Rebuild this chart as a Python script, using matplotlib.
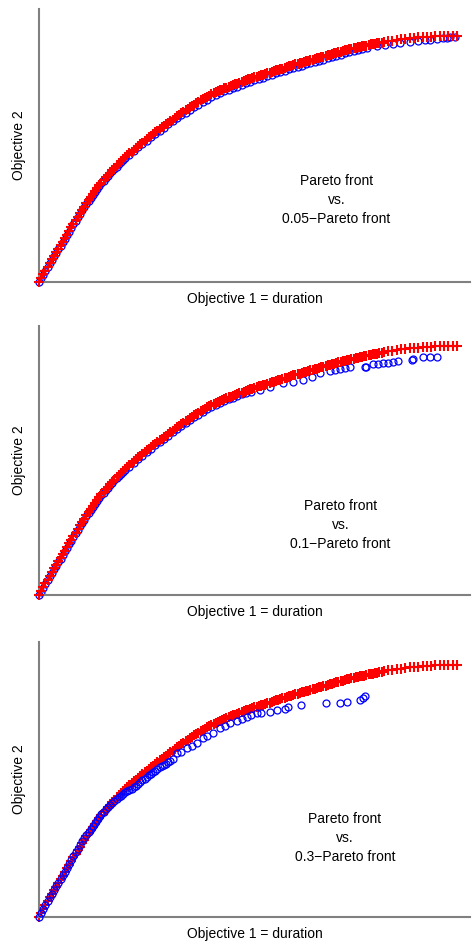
import matplotlib
matplotlib.use("Agg")
import matplotlib.pyplot as plt

plt.rcParams['font.family'] = ['Liberation Sans', 'DejaVu Sans']

# exact Pareto front (same in every panel)
front_x = [0, 0.5, 1, 1.5, 2, 2.5, 3, 3.5, 4, 4.5, 5, 5.5, 6, 6.5, 7, 7.5, 8, 8.5, 9, 9.5,
           10, 10.5, 11, 11.5, 12, 12.5, 13, 13.5, 14, 14.5, 15, 15.5, 16, 16.5, 17, 17.5,
           18, 18.5, 19, 19.5,
           20, 20.5, 21, 21.5, 22, 22.5, 23, 23.5, 24, 24.5, 25, 25.5, 26, 26.5, 27, 27.5,
           28, 28.5, 29, 29.5, 30, 30.5, 31, 31.5, 32, 32.5, 33, 33.5, 34, 34.5, 35, 35.5,
           36, 36.5, 37, 37.5, 38, 38.5, 39, 39.5, 40, 40.5, 41, 41.5, 42, 42.5, 43, 43.5,
           44, 44.5, 45, 45.5, 46, 46.5, 47, 47.5, 48, 48.5, 49, 49.5, 50, 50.5, 51, 51.5,
           52, 52.5, 53, 53.5, 54, 54.5, 55, 55.5, 56, 56.5, 57, 57.5, 58, 58.5, 59, 59.5,
           60, 60.5, 61, 61.5, 62, 62.5, 63, 63.5, 64, 64.5, 65, 65.5, 66, 66.5, 67, 67.5,
           68, 68.5, 69, 69.5, 70, 70.5, 71, 71.5, 72, 72.5, 73, 73.5, 74, 74.5, 75, 75.5,
           76, 76.5, 77, 77.5, 78, 78.5, 79, 79.5,
           80, 81, 82, 83, 84, 85, 86, 87, 88, 89, 90, 91, 92, 93, 94, 95, 96, 97]
front_y = [0, 1.4, 2.8, 4.2, 5.6, 7.0, 8.3, 9.6, 10.9, 12.2, 13.5, 14.8, 16.1, 17.4, 18.7,
           20.0, 21.3, 22.6, 23.9, 25.2, 26.4, 27.6, 28.8, 30.0, 31.1, 32.2, 33.3, 34.4,
           35.4, 36.4, 37.4, 38.3, 39.2, 40.1, 41.0, 41.8, 42.6, 43.4, 44.2, 45.0,
           45.7, 46.4, 47.1, 47.8, 48.5, 49.1, 49.8, 50.4, 51.1, 51.7, 52.4, 53.0, 53.6,
           54.2, 54.8, 55.4, 56.0, 56.6, 57.2, 57.7, 58.3, 58.9, 59.5, 60.1, 60.7, 61.2,
           61.8, 62.3, 62.9, 63.4, 64.0, 64.5, 65.0, 65.5, 66.0, 66.5, 67.0, 67.4, 67.9,
           68.3, 68.8, 69.1, 69.5, 69.8, 70.2, 70.5, 70.9, 71.2, 71.5, 71.8, 72.1, 72.4,
           72.7, 73.0, 73.3, 73.6, 73.9, 74.2, 74.5, 74.7, 75.0, 75.2, 75.5, 75.7, 76.0,
           76.2, 76.5, 76.7, 77.0, 77.2, 77.5, 77.7, 78.0, 78.2, 78.5, 78.7, 79.0, 79.2,
           79.5, 79.7, 79.9, 80.1, 80.4, 80.6, 80.8, 81.0, 81.3, 81.5, 81.7, 81.9, 82.2,
           82.4, 82.6, 82.8, 83.1, 83.3, 83.5, 83.7, 84.0, 84.2, 84.4, 84.6, 84.8, 85.0,
           85.2, 85.4, 85.6, 85.7, 85.9, 86.1, 86.3, 86.4, 86.6, 86.8, 87.0, 87.1, 87.3,
           87.4, 87.6, 87.7,
           87.9, 88.2, 88.4, 88.7, 88.9, 89.1, 89.3, 89.5, 89.6, 89.7, 89.8, 89.9, 90.0,
           90.0, 90.1, 90.1, 90.2, 90.2]

# 0.05-Pareto front
eps05_x = [0, 0.5, 1, 1.5, 2, 2.5, 3, 3.5, 4, 4.5, 5, 5.5, 6, 6.5, 7, 7.5, 8, 8.5, 9, 9.5,
           10, 10.5, 11, 11.5, 12, 12.5, 13, 13.5, 14, 14.5, 15, 15.5, 16, 16.5, 17, 17.5,
           18, 18.5, 19, 19.5, 20, 21, 22, 23, 24, 25, 26, 27, 28, 29, 30, 31, 32, 33, 34,
           35, 36, 37, 38, 39, 40, 41, 42, 43, 44, 45, 46, 47, 48, 49, 50, 51, 52, 53, 54,
           55, 56, 57, 58, 59, 60, 61, 62, 63, 64, 65, 66, 67, 68, 69, 70, 71, 72, 73, 74,
           75, 76.1, 78.4, 80.3, 82.1, 83.8, 86.1, 87.9, 89.6, 90.7, 92.3, 93.7, 94.7,
           95.4, 96.5]
eps05_y = [0, 1.3, 2.7, 4.0, 5.4, 6.8, 8.1, 9.4, 10.7, 12.0, 13.3, 14.6, 15.9, 17.2, 18.5,
           19.8, 21.1, 22.4, 23.7, 25.0, 26.2, 27.4, 28.6, 29.8, 30.9, 32.0, 33.1, 34.1,
           35.1, 36.1, 37.1, 38.0, 38.9, 39.8, 40.7, 41.5, 42.3, 43.1, 43.9, 44.6,
           45.3, 46.6, 48.0, 49.3, 50.6, 51.8, 53.0, 54.2, 55.4, 56.5,
           57.7, 58.8, 59.9, 61.0, 62.0, 63.0, 64.0, 65.0, 65.9, 66.8,
           67.7, 68.4, 69.1, 69.8, 70.4, 71.0, 71.6, 72.2, 72.8, 73.4,
           73.9, 74.4, 74.9, 75.4, 75.9, 76.4, 76.9, 77.4, 77.9, 78.4,
           78.8, 79.3, 79.7, 80.2, 80.6, 81.1, 81.5, 82.0, 82.4, 82.9,
           83.3, 83.7, 84.1, 84.5, 84.8, 85.2,
           85.7, 86.4, 86.8, 87.2, 87.6, 88.0, 88.3, 88.6, 88.8, 89.1, 89.3, 89.4, 89.6, 89.9]

# 0.1-Pareto front
eps10_x = [0, 0.5, 1, 1.5, 2, 2.5, 3, 3.5, 4, 4.5, 5, 5.5, 6, 6.5, 7, 7.5, 8, 8.5, 9, 9.5,
           10, 10.5, 11, 11.5, 12, 12.5, 13, 13.5, 14, 14.5, 15, 15.5, 16, 16.5, 17, 17.5,
           18, 18.5, 19, 19.5, 20, 21, 22, 23, 24, 25, 26, 27, 28, 29, 30, 31, 32, 33, 34,
           35, 36, 37, 38, 39, 40, 41, 42, 43, 44, 45, 46, 47, 48,
           49.3, 51.3, 53.6, 56.7, 59.0, 61.3, 63.3, 65.2, 67.5, 68.7, 69.8, 71.0, 72.2,
           75.6, 76.0, 77.6, 78.7, 79.9, 81.0, 82.2, 83.4, 86.5, 86.8, 89.2, 90.7, 92.3]
eps10_y = [0, 1.2, 2.6, 4.0, 5.3, 6.7, 8.0, 9.3, 10.6, 11.9, 13.2, 14.5, 15.8, 17.1, 18.4,
           19.7, 21.0, 22.3, 23.6, 24.9, 26.1, 27.3, 28.5, 29.7, 30.8, 31.9, 33.0, 34.1,
           35.1, 36.1, 37.1, 38.0, 38.9, 39.8, 40.7, 41.5, 42.3, 43.1, 43.9, 44.7,
           45.2, 46.5, 47.9, 49.2, 50.5, 51.8, 53.0, 54.2, 55.4, 56.6,
           57.7, 58.9, 60.1, 61.2, 62.3, 63.3, 64.3, 65.3, 66.3, 67.2,
           68.1, 68.8, 69.5, 70.2, 70.8, 71.4, 72.0, 72.6, 73.1,
           73.6, 74.2, 75.4, 76.7, 77.2, 77.9, 79.0, 80.3, 81.2, 81.5, 81.7, 82.1, 82.5,
           82.5, 82.7, 83.6, 83.6, 83.9, 83.9, 84.5, 84.8, 85.1, 85.5, 86.1, 86.1, 86.1]

# 0.3-Pareto front
eps30_x = [0, 0.5, 1, 1.5, 2, 2.5, 3, 3.5, 4, 4.5, 5, 5.5, 6, 6.5, 7, 7.5, 8, 8.5, 9, 9.5,
           10, 10.5, 11, 11.5, 12, 12.5, 13, 13.5, 14, 14.5, 15, 15.5, 16, 16.5, 17, 17.5,
           18, 18.5, 19, 19.5, 20, 20.5, 21, 21.5, 22, 22.5, 23, 23.5, 24, 24.5, 25, 25.5,
           26, 26.5, 27, 27.5, 28, 28.5, 29, 29.5, 30, 30.5, 31,
           32.1, 33.0, 34.3, 35.5, 36.6, 38.1, 39.0, 40.4, 42.0, 43.2, 44.3, 45.9, 47.0,
           48.2, 49.3, 50.5, 51.5, 53.6, 55.2, 57.1, 57.8, 60.9, 66.7, 69.8, 71.4, 74.5,
           75.2, 75.6]
eps30_y = [0, 1.4, 2.8, 4.3, 5.7, 7.1, 8.4, 9.7, 11.0, 12.3, 13.6, 14.9, 16.2, 17.5, 18.9,
           20.3, 21.7, 23.1, 24.5, 25.9, 27.1, 28.3, 29.4, 30.5, 31.6, 32.7, 33.8, 34.8,
           35.8, 36.7, 37.6, 38.5, 39.3, 40.1, 40.8, 41.5, 42.2, 42.8, 43.4, 44.0,
           44.6, 45.0, 45.4, 45.9, 46.5, 47.0, 47.6, 48.2, 48.9, 49.5, 50.2, 50.7, 51.3,
           51.8, 52.4, 52.9, 53.5, 54.0, 54.5, 54.9, 55.3, 55.9, 56.6,
           58.6, 59.2, 60.4, 61.3, 62.2, 63.9, 64.6, 65.7, 67.5, 68.4, 69.3, 70.2, 70.9,
           71.7, 72.3, 72.9, 73.1, 73.5, 74.1, 74.3, 75.0, 75.9, 76.5, 76.7, 77.0, 77.6,
           78.5, 79.1]

panels = [
    (eps05_x, eps05_y, '0.05', 100.0, False),
    (eps10_x, eps10_y, '0.1', 97.4, False),
    (eps30_x, eps30_y, '0.3', 98.4, True),
]
# axes boxes in figure fractions: [left, bottom, width, height]
boxes = [
    [0.0826, 0.7022, 0.9130, 0.2883],
    [0.0826, 0.3717, 0.9130, 0.2841],
    [0.0826, 0.0317, 0.9130, 0.2904],
]
text_pos = [(0.69, 0.30), (0.70, 0.26), (0.71, 0.287)]

fig = plt.figure(figsize=(4.72, 9.47), dpi=100)

for (ax_x, ax_y, eps, ytop, blue_on_top), box, (tx, ty) in zip(panels, boxes, text_pos):
    ax = fig.add_axes(box)
    zb, zr = (3, 2) if blue_on_top else (2, 3)
    ax.plot(ax_x, ax_y, 'o', color='blue', mfc='none', ms=5, mew=0.9,
            zorder=zb, clip_on=False)
    ax.plot(front_x, front_y, '+', color='red', ms=6.5, mew=1.5,
            zorder=zr, clip_on=False)
    ax.set_xlim(0, 100)
    ax.set_ylim(0, ytop)
    ax.set_xticks([])
    ax.set_yticks([])
    for side in ('top', 'right'):
        ax.spines[side].set_visible(False)
    for side in ('left', 'bottom'):
        ax.spines[side].set_color('0.5')
        ax.spines[side].set_linewidth(1.5)
    ax.set_xlabel('Objective 1 = duration', fontsize=10, labelpad=7)
    ax.set_ylabel('Objective 2', fontsize=10, labelpad=9)
    ax.text(tx, ty, 'Pareto front\nvs.\n' + eps + '\u2212Pareto front',
            transform=ax.transAxes, ha='center', va='center',
            fontsize=10, linespacing=1.45)

fig.savefig('out.png', dpi=100)
